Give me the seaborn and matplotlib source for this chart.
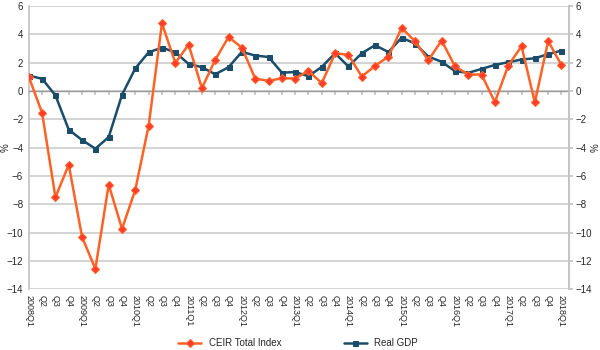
import matplotlib
matplotlib.use("Agg")
import matplotlib.pyplot as plt
import seaborn as sns
import pandas as pd
import numpy as np

quarters = []
for yr in range(2008, 2019):
    for q in range(1, 5):
        quarters.append(f"{yr}Q{q}")
quarters = quarters[:41]
tick_labels = [q if q.endswith("Q1") else q[-2:] for q in quarters]

ceir = [1.0, -1.55, -7.5, -5.2, -10.3, -12.55, -6.6, -9.73, -6.96, -2.45,
        4.78, 1.98, 3.27, 0.2, 2.2, 3.81, 3.06, 0.88, 0.71, 0.9,
        0.88, 1.42, 0.55, 2.66, 2.55, 1.02, 1.77, 2.43, 4.45, 3.51,
        2.17, 3.56, 1.75, 1.16, 1.16, -0.79, 1.79, 3.16, -0.81, 3.53, 1.82]
gdp = [1.09, 0.86, -0.31, -2.73, -3.46, -4.07, -3.25, -0.27, 1.6, 2.73,
       3.06, 2.73, 1.91, 1.68, 1.18, 1.68, 2.76, 2.5, 2.4, 1.3,
       1.33, 1.05, 1.7, 2.66, 1.73, 2.66, 3.23, 2.75, 3.76, 3.35,
       2.43, 2.06, 1.4, 1.28, 1.56, 1.84, 2.03, 2.22, 2.31, 2.6, 2.85]

sns.set_theme(style="white")
plt.rcParams['font.family'] = ['Liberation Sans', 'DejaVu Sans']

df = pd.DataFrame({"idx": np.arange(len(quarters)), "CEIR Total Index": ceir, "Real GDP": gdp})

fig = plt.figure(figsize=(6, 3.5), dpi=100)
ax = fig.add_axes([0.048, 0.173, 0.9, 0.81])

orange = "#FF6226"
blue = "#1B4D6B"
sns.lineplot(data=df, x="idx", y="CEIR Total Index", ax=ax, color=orange, lw=1.8,
             marker="D", markersize=4.5, markerfacecolor="#FF3A2E", markeredgecolor=orange,
             markeredgewidth=0.8, label="CEIR Total Index", zorder=4)
sns.lineplot(data=df, x="idx", y="Real GDP", ax=ax, color=blue, lw=1.8,
             marker="s", markersize=3.6, markerfacecolor=blue, markeredgecolor=blue,
             label="Real GDP", zorder=3)

ax.set_ylim(-14, 6)
ax.set_xlim(0, len(quarters) - 0.45)
ax.set_yticks(np.arange(-14, 7, 2))
ax.yaxis.grid(True, color="#D0D0D0", lw=1.3)
ax.xaxis.grid(False)
ax.set_xlabel("")
ax.set_ylabel("%", fontsize=7)
ax.yaxis.set_label_coords(-0.033, 0.5)
ax.tick_params(axis="y", labelsize=7, length=0, pad=4)

ax.spines["top"].set_visible(False)
ax.spines["left"].set_color("#C4C4C4")
ax.spines["right"].set_color("#C4C4C4")
ax.spines["bottom"].set_position(("data", 0))
ax.spines["bottom"].set_color("#9A9A9A")
ax.spines["bottom"].set_linewidth(1.0)
ax.set_xticks(df["idx"])
ax.tick_params(axis="x", direction="out", length=3, color="#C4C4C4", labelbottom=False, bottom=True)

sec = ax.secondary_xaxis(0.0)
sec.set_xticks(df["idx"])
sec.set_xticklabels(tick_labels, rotation=-90, fontsize=6.5)
sec.tick_params(length=0, pad=4)
sec.spines["bottom"].set_visible(False)

ax2 = ax.twinx()
ax2.set_ylim(-14, 6)
ax2.set_yticks(np.arange(-14, 7, 2))
ax2.tick_params(axis="y", labelsize=7, length=3, color="#C4C4C4", pad=2, right=True)
ax2.set_ylabel("%", fontsize=7)
ax2.yaxis.set_label_coords(1.04, 0.5)
for s in ["top", "left", "bottom"]:
    ax2.spines[s].set_visible(False)
ax2.spines["right"].set_color("#C4C4C4")
ax2.grid(False)

handles, labels = ax.get_legend_handles_labels()
ax.legend_.remove()
fig.legend(handles, labels, loc="center", bbox_to_anchor=(0.497, 0.02), ncol=2,
           frameon=False, fontsize=7, columnspacing=6.5, handlelength=2.3, handletextpad=0.8)

fig.savefig("out.png", dpi=100)
